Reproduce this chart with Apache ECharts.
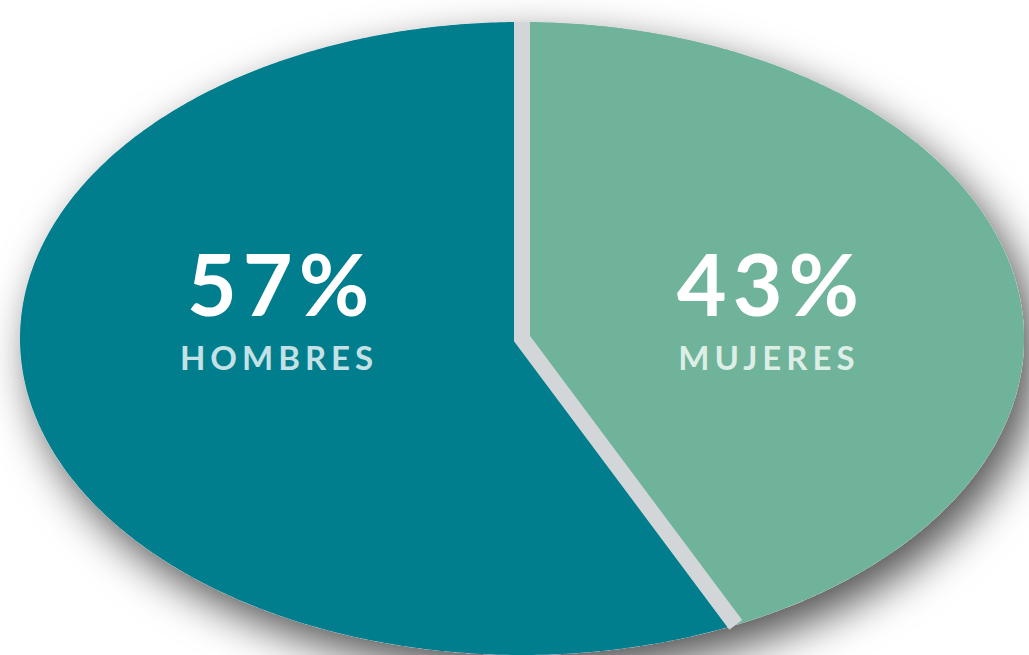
<!DOCTYPE html>
<html><head><meta charset="utf-8">
<script src="https://cdn.jsdelivr.net/npm/echarts@6/dist/echarts.min.js"></script>
<style>
html,body{margin:0;padding:0;background:#fff;overflow:hidden;}
#chart{width:1029px;height:655px;}
#chart text[style*="33px"]{letter-spacing:5px;}
#chart text[style*="86px"]{letter-spacing:6px;}
</style></head><body><div id="chart"></div>
<script>
// ---- data ----
const categories = ['MUJERES', 'HOMBRES'];
const values = [43, 57];

// ---- styles ----
const sliceColors = ['#6FB39A', '#007E8D'];
const nameColors = ['#DCEEE6', '#C4E1E5'];
const separatorColor = '#D3D6D9';

const total = values.reduce((a, b) => a + b, 0);
const cum = [0];
values.forEach((v, i) => cum.push(cum[i] + v / total));

function pointAt(f, r) {
  const t = f * 2 * Math.PI;
  return [r * Math.sin(t), r * Math.cos(t)];
}
function arcPoints(api, f0, f1, withCenter) {
  const pts = withCenter ? [api.coord([0, 0])] : [];
  const n = Math.max(4, Math.ceil((f1 - f0) * 720));
  for (let k = 0; k <= n; k++) pts.push(api.coord(pointAt(f0 + (f1 - f0) * k / n, 1)));
  return pts;
}

const chart = echarts.init(document.getElementById('chart'), null, { renderer: 'svg' });
chart.setOption({
  animation: false,
  grid: { left: 20, top: 22, width: 1004, height: 636 },
  xAxis: { type: 'value', min: -1, max: 1, show: false },
  yAxis: { type: 'value', min: -1, max: 1, show: false },
  series: [
    {
      type: 'custom', silent: true, clip: false, z: 1,
      data: [0],
      renderItem: (params, api) => ({
        type: 'polygon',
        shape: { points: arcPoints(api, 0, 1, false) },
        style: { fill: separatorColor, shadowBlur: 44, shadowColor: 'rgba(0,0,0,0.68)', shadowOffsetX: 12, shadowOffsetY: 18 }
      })
    },
    {
      type: 'custom', silent: true, clip: false, z: 2,
      data: categories.map((c, i) => ({ name: c, value: values[i] })),
      renderItem: (params, api) => {
        const i = params.dataIndex;
        const f0 = cum[i], f1 = cum[i + 1];
        const mid = (f0 + f1) / 2;
        const anchor = api.coord([pointAt(mid, 0.5)[0], 0]);
        return {
          type: 'group',
          children: [
            { type: 'polygon', shape: { points: arcPoints(api, f0, f1, true) }, style: { fill: sliceColors[i] } },
            { type: 'text', x: anchor[0] + 4, y: anchor[1] - 56,
              style: { text: values[i] + '%', fill: '#FFFFFF', fontFamily: 'Lato', fontWeight: 'bold', fontSize: 86, align: 'center', verticalAlign: 'middle' } },
            { type: 'text', x: anchor[0] + 2, y: anchor[1] + 18,
              style: { text: categories[i], fill: nameColors[i], fontFamily: 'Lato', fontWeight: 'bold', fontSize: 33, align: 'center', verticalAlign: 'middle' } }
          ]
        };
      }
    },
    {
      type: 'custom', silent: true, clip: false, z: 3,
      data: [0],
      renderItem: (params, api) => {
        const line = [api.coord(pointAt(cum[1], 1)), api.coord([0, 0]), api.coord(pointAt(cum[0], 1))];
        return {
          type: 'polyline',
          shape: { points: line },
          style: { stroke: separatorColor, lineWidth: 16, fill: null, lineJoin: 'miter', lineCap: 'butt' }
        };
      }
    }
  ]
});
</script></body></html>
